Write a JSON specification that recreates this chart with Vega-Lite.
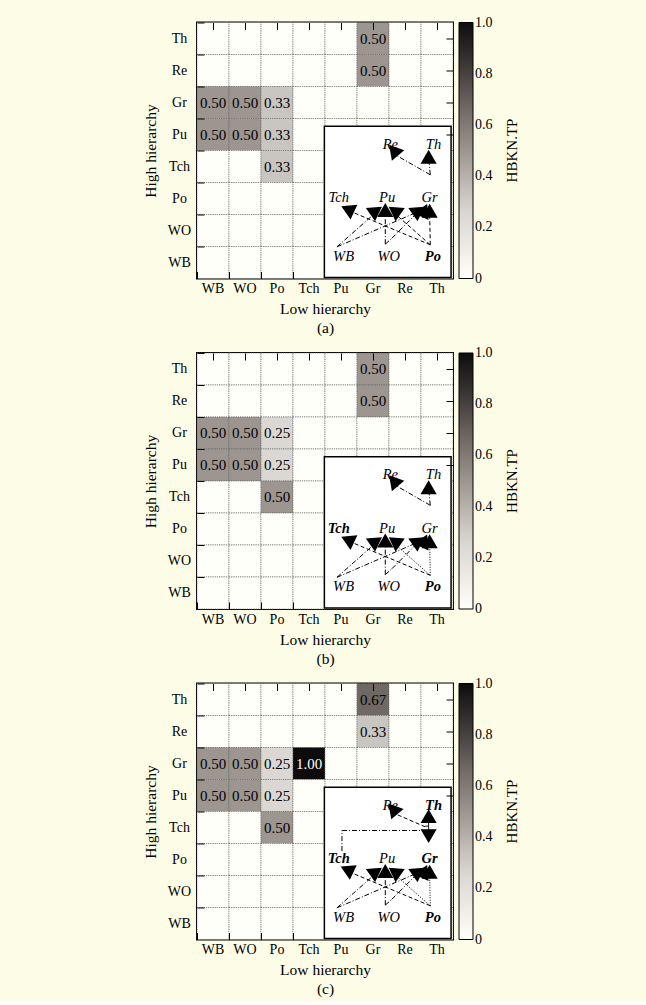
{
"$schema":"https://vega.github.io/schema/vega-lite/v6.json",
"background":"#fdfde7",
"padding":{"left":142,"top":20.5,"right":128,"bottom":3},
"spacing":13.5,
"datasets":{
"cells":[
{"p":"a","h":"Th","l":"WB","v":0},{"p":"a","h":"Th","l":"WO","v":0},{"p":"a","h":"Th","l":"Po","v":0},{"p":"a","h":"Th","l":"Tch","v":0},{"p":"a","h":"Th","l":"Pu","v":0},{"p":"a","h":"Th","l":"Gr","v":0.5},{"p":"a","h":"Th","l":"Re","v":0},{"p":"a","h":"Th","l":"Th","v":0},
{"p":"a","h":"Re","l":"WB","v":0},{"p":"a","h":"Re","l":"WO","v":0},{"p":"a","h":"Re","l":"Po","v":0},{"p":"a","h":"Re","l":"Tch","v":0},{"p":"a","h":"Re","l":"Pu","v":0},{"p":"a","h":"Re","l":"Gr","v":0.5},{"p":"a","h":"Re","l":"Re","v":0},{"p":"a","h":"Re","l":"Th","v":0},
{"p":"a","h":"Gr","l":"WB","v":0.5},{"p":"a","h":"Gr","l":"WO","v":0.5},{"p":"a","h":"Gr","l":"Po","v":0.33},{"p":"a","h":"Gr","l":"Tch","v":0},{"p":"a","h":"Gr","l":"Pu","v":0},{"p":"a","h":"Gr","l":"Gr","v":0},{"p":"a","h":"Gr","l":"Re","v":0},{"p":"a","h":"Gr","l":"Th","v":0},
{"p":"a","h":"Pu","l":"WB","v":0.5},{"p":"a","h":"Pu","l":"WO","v":0.5},{"p":"a","h":"Pu","l":"Po","v":0.33},{"p":"a","h":"Pu","l":"Tch","v":0},{"p":"a","h":"Pu","l":"Pu","v":0},{"p":"a","h":"Pu","l":"Gr","v":0},{"p":"a","h":"Pu","l":"Re","v":0},{"p":"a","h":"Pu","l":"Th","v":0},
{"p":"a","h":"Tch","l":"WB","v":0},{"p":"a","h":"Tch","l":"WO","v":0},{"p":"a","h":"Tch","l":"Po","v":0.33},{"p":"a","h":"Tch","l":"Tch","v":0},{"p":"a","h":"Tch","l":"Pu","v":0},{"p":"a","h":"Tch","l":"Gr","v":0},{"p":"a","h":"Tch","l":"Re","v":0},{"p":"a","h":"Tch","l":"Th","v":0},
{"p":"a","h":"Po","l":"WB","v":0},{"p":"a","h":"Po","l":"WO","v":0},{"p":"a","h":"Po","l":"Po","v":0},{"p":"a","h":"Po","l":"Tch","v":0},{"p":"a","h":"Po","l":"Pu","v":0},{"p":"a","h":"Po","l":"Gr","v":0},{"p":"a","h":"Po","l":"Re","v":0},{"p":"a","h":"Po","l":"Th","v":0},
{"p":"a","h":"WO","l":"WB","v":0},{"p":"a","h":"WO","l":"WO","v":0},{"p":"a","h":"WO","l":"Po","v":0},{"p":"a","h":"WO","l":"Tch","v":0},{"p":"a","h":"WO","l":"Pu","v":0},{"p":"a","h":"WO","l":"Gr","v":0},{"p":"a","h":"WO","l":"Re","v":0},{"p":"a","h":"WO","l":"Th","v":0},
{"p":"a","h":"WB","l":"WB","v":0},{"p":"a","h":"WB","l":"WO","v":0},{"p":"a","h":"WB","l":"Po","v":0},{"p":"a","h":"WB","l":"Tch","v":0},{"p":"a","h":"WB","l":"Pu","v":0},{"p":"a","h":"WB","l":"Gr","v":0},{"p":"a","h":"WB","l":"Re","v":0},{"p":"a","h":"WB","l":"Th","v":0},
{"p":"b","h":"Th","l":"WB","v":0},{"p":"b","h":"Th","l":"WO","v":0},{"p":"b","h":"Th","l":"Po","v":0},{"p":"b","h":"Th","l":"Tch","v":0},{"p":"b","h":"Th","l":"Pu","v":0},{"p":"b","h":"Th","l":"Gr","v":0.5},{"p":"b","h":"Th","l":"Re","v":0},{"p":"b","h":"Th","l":"Th","v":0},
{"p":"b","h":"Re","l":"WB","v":0},{"p":"b","h":"Re","l":"WO","v":0},{"p":"b","h":"Re","l":"Po","v":0},{"p":"b","h":"Re","l":"Tch","v":0},{"p":"b","h":"Re","l":"Pu","v":0},{"p":"b","h":"Re","l":"Gr","v":0.5},{"p":"b","h":"Re","l":"Re","v":0},{"p":"b","h":"Re","l":"Th","v":0},
{"p":"b","h":"Gr","l":"WB","v":0.5},{"p":"b","h":"Gr","l":"WO","v":0.5},{"p":"b","h":"Gr","l":"Po","v":0.25},{"p":"b","h":"Gr","l":"Tch","v":0},{"p":"b","h":"Gr","l":"Pu","v":0},{"p":"b","h":"Gr","l":"Gr","v":0},{"p":"b","h":"Gr","l":"Re","v":0},{"p":"b","h":"Gr","l":"Th","v":0},
{"p":"b","h":"Pu","l":"WB","v":0.5},{"p":"b","h":"Pu","l":"WO","v":0.5},{"p":"b","h":"Pu","l":"Po","v":0.25},{"p":"b","h":"Pu","l":"Tch","v":0},{"p":"b","h":"Pu","l":"Pu","v":0},{"p":"b","h":"Pu","l":"Gr","v":0},{"p":"b","h":"Pu","l":"Re","v":0},{"p":"b","h":"Pu","l":"Th","v":0},
{"p":"b","h":"Tch","l":"WB","v":0},{"p":"b","h":"Tch","l":"WO","v":0},{"p":"b","h":"Tch","l":"Po","v":0.5},{"p":"b","h":"Tch","l":"Tch","v":0},{"p":"b","h":"Tch","l":"Pu","v":0},{"p":"b","h":"Tch","l":"Gr","v":0},{"p":"b","h":"Tch","l":"Re","v":0},{"p":"b","h":"Tch","l":"Th","v":0},
{"p":"b","h":"Po","l":"WB","v":0},{"p":"b","h":"Po","l":"WO","v":0},{"p":"b","h":"Po","l":"Po","v":0},{"p":"b","h":"Po","l":"Tch","v":0},{"p":"b","h":"Po","l":"Pu","v":0},{"p":"b","h":"Po","l":"Gr","v":0},{"p":"b","h":"Po","l":"Re","v":0},{"p":"b","h":"Po","l":"Th","v":0},
{"p":"b","h":"WO","l":"WB","v":0},{"p":"b","h":"WO","l":"WO","v":0},{"p":"b","h":"WO","l":"Po","v":0},{"p":"b","h":"WO","l":"Tch","v":0},{"p":"b","h":"WO","l":"Pu","v":0},{"p":"b","h":"WO","l":"Gr","v":0},{"p":"b","h":"WO","l":"Re","v":0},{"p":"b","h":"WO","l":"Th","v":0},
{"p":"b","h":"WB","l":"WB","v":0},{"p":"b","h":"WB","l":"WO","v":0},{"p":"b","h":"WB","l":"Po","v":0},{"p":"b","h":"WB","l":"Tch","v":0},{"p":"b","h":"WB","l":"Pu","v":0},{"p":"b","h":"WB","l":"Gr","v":0},{"p":"b","h":"WB","l":"Re","v":0},{"p":"b","h":"WB","l":"Th","v":0},
{"p":"c","h":"Th","l":"WB","v":0},{"p":"c","h":"Th","l":"WO","v":0},{"p":"c","h":"Th","l":"Po","v":0},{"p":"c","h":"Th","l":"Tch","v":0},{"p":"c","h":"Th","l":"Pu","v":0},{"p":"c","h":"Th","l":"Gr","v":0.67},{"p":"c","h":"Th","l":"Re","v":0},{"p":"c","h":"Th","l":"Th","v":0},
{"p":"c","h":"Re","l":"WB","v":0},{"p":"c","h":"Re","l":"WO","v":0},{"p":"c","h":"Re","l":"Po","v":0},{"p":"c","h":"Re","l":"Tch","v":0},{"p":"c","h":"Re","l":"Pu","v":0},{"p":"c","h":"Re","l":"Gr","v":0.33},{"p":"c","h":"Re","l":"Re","v":0},{"p":"c","h":"Re","l":"Th","v":0},
{"p":"c","h":"Gr","l":"WB","v":0.5},{"p":"c","h":"Gr","l":"WO","v":0.5},{"p":"c","h":"Gr","l":"Po","v":0.25},{"p":"c","h":"Gr","l":"Tch","v":1.0},{"p":"c","h":"Gr","l":"Pu","v":0},{"p":"c","h":"Gr","l":"Gr","v":0},{"p":"c","h":"Gr","l":"Re","v":0},{"p":"c","h":"Gr","l":"Th","v":0},
{"p":"c","h":"Pu","l":"WB","v":0.5},{"p":"c","h":"Pu","l":"WO","v":0.5},{"p":"c","h":"Pu","l":"Po","v":0.25},{"p":"c","h":"Pu","l":"Tch","v":0},{"p":"c","h":"Pu","l":"Pu","v":0},{"p":"c","h":"Pu","l":"Gr","v":0},{"p":"c","h":"Pu","l":"Re","v":0},{"p":"c","h":"Pu","l":"Th","v":0},
{"p":"c","h":"Tch","l":"WB","v":0},{"p":"c","h":"Tch","l":"WO","v":0},{"p":"c","h":"Tch","l":"Po","v":0.5},{"p":"c","h":"Tch","l":"Tch","v":0},{"p":"c","h":"Tch","l":"Pu","v":0},{"p":"c","h":"Tch","l":"Gr","v":0},{"p":"c","h":"Tch","l":"Re","v":0},{"p":"c","h":"Tch","l":"Th","v":0},
{"p":"c","h":"Po","l":"WB","v":0},{"p":"c","h":"Po","l":"WO","v":0},{"p":"c","h":"Po","l":"Po","v":0},{"p":"c","h":"Po","l":"Tch","v":0},{"p":"c","h":"Po","l":"Pu","v":0},{"p":"c","h":"Po","l":"Gr","v":0},{"p":"c","h":"Po","l":"Re","v":0},{"p":"c","h":"Po","l":"Th","v":0},
{"p":"c","h":"WO","l":"WB","v":0},{"p":"c","h":"WO","l":"WO","v":0},{"p":"c","h":"WO","l":"Po","v":0},{"p":"c","h":"WO","l":"Tch","v":0},{"p":"c","h":"WO","l":"Pu","v":0},{"p":"c","h":"WO","l":"Gr","v":0},{"p":"c","h":"WO","l":"Re","v":0},{"p":"c","h":"WO","l":"Th","v":0},
{"p":"c","h":"WB","l":"WB","v":0},{"p":"c","h":"WB","l":"WO","v":0},{"p":"c","h":"WB","l":"Po","v":0},{"p":"c","h":"WB","l":"Tch","v":0},{"p":"c","h":"WB","l":"Pu","v":0},{"p":"c","h":"WB","l":"Gr","v":0},{"p":"c","h":"WB","l":"Re","v":0},{"p":"c","h":"WB","l":"Th","v":0}
],
"insets":[{"x0":3.98,"x1":7.94,"y0":0.03,"y1":4.76}],
"nodes":[
{"p":"a","n":"Re","x":6.04,"y":4.18,"b":false},{"p":"a","n":"Th","x":7.39,"y":4.18,"b":false},{"p":"a","n":"Tch","x":4.43,"y":2.51,"b":false},{"p":"a","n":"Pu","x":5.94,"y":2.51,"b":false},{"p":"a","n":"Gr","x":7.27,"y":2.51,"b":false},{"p":"a","n":"WB","x":4.58,"y":0.68,"b":false},{"p":"a","n":"WO","x":5.99,"y":0.68,"b":false},{"p":"a","n":"Po","x":7.37,"y":0.68,"b":true},
{"p":"b","n":"Re","x":6.04,"y":4.18,"b":false},{"p":"b","n":"Th","x":7.39,"y":4.18,"b":false},{"p":"b","n":"Tch","x":4.43,"y":2.51,"b":true},{"p":"b","n":"Pu","x":5.94,"y":2.51,"b":false},{"p":"b","n":"Gr","x":7.27,"y":2.51,"b":false},{"p":"b","n":"WB","x":4.58,"y":0.68,"b":false},{"p":"b","n":"WO","x":5.99,"y":0.68,"b":false},{"p":"b","n":"Po","x":7.37,"y":0.68,"b":true},
{"p":"c","n":"Re","x":6.04,"y":4.18,"b":false},{"p":"c","n":"Th","x":7.39,"y":4.18,"b":true},{"p":"c","n":"Tch","x":4.43,"y":2.51,"b":true},{"p":"c","n":"Pu","x":5.94,"y":2.51,"b":false},{"p":"c","n":"Gr","x":7.27,"y":2.51,"b":true},{"p":"c","n":"WB","x":4.58,"y":0.68,"b":false},{"p":"c","n":"WO","x":5.99,"y":0.68,"b":false},{"p":"c","n":"Po","x":7.37,"y":0.68,"b":true}
],
"edges":[
{"p":"a","x":7.29,"y":3.24,"x2":6.165,"y2":3.886,"s":"dd"},{"p":"a","x":7.29,"y":3.24,"x2":7.238,"y2":3.803,"s":"dd"},
{"p":"a","x":4.374,"y":0.99,"x2":5.624,"y2":2.095,"s":"dd"},{"p":"a","x":4.374,"y":0.99,"x2":6.926,"y2":2.095,"s":"dd"},
{"p":"a","x":5.884,"y":1.074,"x2":5.884,"y2":2.115,"s":"dd"},{"p":"a","x":5.884,"y":1.074,"x2":6.093,"y2":1.261,"s":"dd"},{"p":"a","x":6.093,"y":1.261,"x2":6.926,"y2":2.095,"s":"dd"},
{"p":"a","x":7.29,"y":1.053,"x2":4.707,"y2":2.136,"s":"da"},{"p":"a","x":7.29,"y":1.053,"x2":6.145,"y2":2.063,"s":"da"},{"p":"a","x":7.29,"y":1.053,"x2":7.27,"y2":2.063,"s":"da"},
{"p":"b","x":7.29,"y":3.24,"x2":6.165,"y2":3.886,"s":"dd"},{"p":"b","x":7.29,"y":3.24,"x2":7.238,"y2":3.803,"s":"dd"},
{"p":"b","x":4.374,"y":0.99,"x2":5.624,"y2":2.095,"s":"dd"},{"p":"b","x":4.374,"y":0.99,"x2":6.926,"y2":2.095,"s":"dd"},
{"p":"b","x":5.884,"y":1.074,"x2":5.884,"y2":2.115,"s":"dd"},{"p":"b","x":5.884,"y":1.074,"x2":6.093,"y2":1.261,"s":"dd"},{"p":"b","x":6.093,"y":1.261,"x2":6.926,"y2":2.095,"s":"dd"},
{"p":"b","x":7.29,"y":1.053,"x2":4.707,"y2":2.136,"s":"da"},{"p":"b","x":7.29,"y":1.053,"x2":6.145,"y2":2.063,"s":"do"},{"p":"b","x":7.29,"y":1.053,"x2":7.27,"y2":2.063,"s":"do"},
{"p":"c","x":7.134,"y":3.52,"x2":6.19,"y2":3.93,"s":"da"},{"p":"c","x":7.238,"y":3.3,"x2":7.238,"y2":3.8,"s":"so"},{"p":"c","x":7.134,"y":3.543,"x2":7.238,"y2":3.543,"s":"so"},
{"p":"c","x":4.53,"y":2.761,"x2":4.53,"y2":3.407,"s":"dd"},{"p":"c","x":4.53,"y":3.407,"x2":7.238,"y2":3.407,"s":"dd"},
{"p":"c","x":4.374,"y":0.99,"x2":5.624,"y2":2.095,"s":"dd"},{"p":"c","x":4.374,"y":0.99,"x2":6.926,"y2":2.095,"s":"dd"},
{"p":"c","x":5.884,"y":1.074,"x2":5.884,"y2":2.115,"s":"dd"},{"p":"c","x":5.884,"y":1.074,"x2":6.093,"y2":1.261,"s":"dd"},{"p":"c","x":6.093,"y":1.261,"x2":6.926,"y2":2.095,"s":"dd"},
{"p":"c","x":7.29,"y":1.053,"x2":4.707,"y2":2.136,"s":"da"},{"p":"c","x":7.29,"y":1.053,"x2":6.145,"y2":2.063,"s":"do"},{"p":"c","x":7.29,"y":1.053,"x2":7.27,"y2":2.063,"s":"do"}
],
"heads":[
{"p":"a","x":6.165,"y":3.886,"a":200},{"p":"a","x":7.238,"y":3.803,"a":0},{"p":"a","x":4.707,"y":2.167,"a":295},
{"p":"a","x":5.6,"y":2.12,"a":55},{"p":"a","x":5.884,"y":2.14,"a":0},{"p":"a","x":6.17,"y":2.12,"a":305},
{"p":"a","x":6.926,"y":2.12,"a":55},{"p":"a","x":7.1,"y":2.13,"a":25},{"p":"a","x":7.27,"y":2.12,"a":0},
{"p":"b","x":6.165,"y":3.886,"a":200},{"p":"b","x":7.238,"y":3.803,"a":0},{"p":"b","x":4.707,"y":2.167,"a":295},
{"p":"b","x":5.6,"y":2.12,"a":55},{"p":"b","x":5.884,"y":2.14,"a":0},{"p":"b","x":6.17,"y":2.12,"a":305},
{"p":"b","x":6.926,"y":2.12,"a":55},{"p":"b","x":7.1,"y":2.13,"a":25},{"p":"b","x":7.27,"y":2.12,"a":0},
{"p":"c","x":6.145,"y":3.96,"a":200},{"p":"c","x":7.238,"y":3.855,"a":0},{"p":"c","x":7.238,"y":3.23,"a":180},{"p":"c","x":4.686,"y":2.188,"a":295},
{"p":"c","x":5.6,"y":2.12,"a":55},{"p":"c","x":5.884,"y":2.14,"a":0},{"p":"c","x":6.17,"y":2.12,"a":305},
{"p":"c","x":6.926,"y":2.12,"a":55},{"p":"c","x":7.1,"y":2.13,"a":25},{"p":"c","x":7.27,"y":2.12,"a":0}
]
},
"vconcat":[
{"width":256,"height":256,
 "layer":[
  {"data":{"name":"cells"},"transform":[{"filter":"datum.p=='a'"}],
   "mark":{"type":"rect","stroke":"#666666","strokeWidth":0.8,"strokeDash":[1,1.2]},
   "encoding":{
    "x":{"field":"l","type":"nominal","scale":{"domain":["WB","WO","Po","Tch","Pu","Gr","Re","Th"],"paddingInner":0,"paddingOuter":0},"axis":{"labelAngle":0,"labelPadding":3,"offset":-7,"bandPosition":0,"ticks":true,"tickSize":7,"tickColor":"black","tickOpacity":{"condition":{"test":"indexof(['Pu','Gr','Re','Th'],datum.value)>=0","value":0},"value":1},"zindex":1,"title":["Low hierarchy","(a)"],"titlePadding":6,"titleLineHeight":19}},
    "y":{"field":"h","type":"nominal","scale":{"domain":["Th","Re","Gr","Pu","Tch","Po","WO","WB"],"paddingInner":0,"paddingOuter":0},"axis":{"labelAlign":"center","labelPadding":18,"offset":-7,"bandPosition":0,"ticks":true,"tickSize":7,"tickColor":"black","zindex":1,"title":"High hierarchy","titlePadding":9}},
    "color":{"field":"v","type":"quantitative","scale":{"domain":[0,0.25,0.33,0.5,0.67,1],"range":["#ffffff","#dbd8d4","#c9c5c1","#9d958f","#6f6864","#0d0b0b"]},
     "legend":{"title":"HBKN.TP","values":[0,0.2,0.4,0.6,0.8,1],"labelExpr":"datum.value==0?'0':format(datum.value,'.1f')","encode":{"title":{"update":{"angle":{"value":-90},"baseline":{"value":"top"}}},"labels":{"update":{"baseline":{"value":"middle"}}}}}}
   }},
  {"data":{"name":"cells"},"transform":[{"filter":"datum.p=='a' && datum.v>0"}],
   "mark":{"type":"text","fontSize":15},
   "encoding":{
    "x":{"field":"l","type":"nominal","scale":{"domain":["WB","WO","Po","Tch","Pu","Gr","Re","Th"],"paddingInner":0,"paddingOuter":0},"axis":{"orient":"top","labels":false,"title":null,"offset":-7,"bandPosition":0,"ticks":true,"tickSize":7,"tickColor":"black","zindex":1}},
    "y":{"field":"h","type":"nominal","scale":{"domain":["Th","Re","Gr","Pu","Tch","Po","WO","WB"],"paddingInner":0,"paddingOuter":0},"axis":{"orient":"right","labels":false,"title":null,"values":["Th","Re","Gr","Pu"],"offset":-7,"bandPosition":0,"ticks":true,"tickSize":7,"tickColor":"black","zindex":1}},
    "text":{"field":"v","type":"quantitative","format":".2f"},
    "color":{"condition":{"test":"datum.v>0.8","value":"white"},"value":"black"}
   }},
  {"data":{"name":"insets"},
   "mark":{"type":"rect","fill":"white","stroke":"black","strokeWidth":1.5},
   "encoding":{"x":{"field":"x0","type":"quantitative","scale":{"domain":[0,8],"nice":false},"axis":null},"x2":{"field":"x1"},"y":{"field":"y0","type":"quantitative","scale":{"domain":[0,8],"nice":false},"axis":null},"y2":{"field":"y1"}}},
  {"data":{"name":"edges"},"transform":[{"filter":"datum.p=='a'"}],
   "mark":{"type":"rule","color":"black","strokeWidth":1},
   "encoding":{"x":{"field":"x","type":"quantitative","scale":{"domain":[0,8],"nice":false},"axis":null},"x2":{"field":"x2"},"y":{"field":"y","type":"quantitative","scale":{"domain":[0,8],"nice":false},"axis":null},"y2":{"field":"y2"},
    "strokeDash":{"field":"s","type":"nominal","scale":{"domain":["dd","da","do","so"],"range":[[5,2,1,2],[4,2.5],[1,1.5],[1,0]]},"legend":null}}},
  {"data":{"name":"heads"},"transform":[{"filter":"datum.p=='a'"}],
   "mark":{"type":"point","shape":"triangle-up","filled":true,"color":"black","opacity":1,"size":260},
   "encoding":{"x":{"field":"x","type":"quantitative","scale":{"domain":[0,8],"nice":false},"axis":null},"y":{"field":"y","type":"quantitative","scale":{"domain":[0,8],"nice":false},"axis":null},"angle":{"field":"a","type":"quantitative","scale":null}}},
  {"data":{"name":"nodes"},"transform":[{"filter":"datum.p=='a' && !datum.b"}],
   "mark":{"type":"text","fontSize":14.5,"fontStyle":"italic","align":"center","baseline":"middle"},
   "encoding":{"x":{"field":"x","type":"quantitative","scale":{"domain":[0,8],"nice":false},"axis":null},"y":{"field":"y","type":"quantitative","scale":{"domain":[0,8],"nice":false},"axis":null},"text":{"field":"n"}}},
  {"data":{"name":"nodes"},"transform":[{"filter":"datum.p=='a' && datum.b"}],
   "mark":{"type":"text","fontSize":14.5,"fontStyle":"italic","fontWeight":"bold","align":"center","baseline":"middle"},
   "encoding":{"x":{"field":"x","type":"quantitative","scale":{"domain":[0,8],"nice":false},"axis":null},"y":{"field":"y","type":"quantitative","scale":{"domain":[0,8],"nice":false},"axis":null},"text":{"field":"n"}}}
 ],
 "resolve":{"scale":{"x":"independent","y":"independent"}}
},
{"width":256,"height":256,
 "layer":[
  {"data":{"name":"cells"},"transform":[{"filter":"datum.p=='b'"}],
   "mark":{"type":"rect","stroke":"#666666","strokeWidth":0.8,"strokeDash":[1,1.2]},
   "encoding":{
    "x":{"field":"l","type":"nominal","scale":{"domain":["WB","WO","Po","Tch","Pu","Gr","Re","Th"],"paddingInner":0,"paddingOuter":0},"axis":{"labelAngle":0,"labelPadding":3,"offset":-7,"bandPosition":0,"ticks":true,"tickSize":7,"tickColor":"black","tickOpacity":{"condition":{"test":"indexof(['Pu','Gr','Re','Th'],datum.value)>=0","value":0},"value":1},"zindex":1,"title":["Low hierarchy","(b)"],"titlePadding":6,"titleLineHeight":19}},
    "y":{"field":"h","type":"nominal","scale":{"domain":["Th","Re","Gr","Pu","Tch","Po","WO","WB"],"paddingInner":0,"paddingOuter":0},"axis":{"labelAlign":"center","labelPadding":18,"offset":-7,"bandPosition":0,"ticks":true,"tickSize":7,"tickColor":"black","zindex":1,"title":"High hierarchy","titlePadding":9}},
    "color":{"field":"v","type":"quantitative","scale":{"domain":[0,0.25,0.33,0.5,0.67,1],"range":["#ffffff","#dbd8d4","#c9c5c1","#9d958f","#6f6864","#0d0b0b"]},
     "legend":{"title":"HBKN.TP","values":[0,0.2,0.4,0.6,0.8,1],"labelExpr":"datum.value==0?'0':format(datum.value,'.1f')","encode":{"title":{"update":{"angle":{"value":-90},"baseline":{"value":"top"}}},"labels":{"update":{"baseline":{"value":"middle"}}}}}}
   }},
  {"data":{"name":"cells"},"transform":[{"filter":"datum.p=='b' && datum.v>0"}],
   "mark":{"type":"text","fontSize":15},
   "encoding":{
    "x":{"field":"l","type":"nominal","scale":{"domain":["WB","WO","Po","Tch","Pu","Gr","Re","Th"],"paddingInner":0,"paddingOuter":0},"axis":{"orient":"top","labels":false,"title":null,"offset":-7,"bandPosition":0,"ticks":true,"tickSize":7,"tickColor":"black","zindex":1}},
    "y":{"field":"h","type":"nominal","scale":{"domain":["Th","Re","Gr","Pu","Tch","Po","WO","WB"],"paddingInner":0,"paddingOuter":0},"axis":{"orient":"right","labels":false,"title":null,"values":["Th","Re","Gr","Pu"],"offset":-7,"bandPosition":0,"ticks":true,"tickSize":7,"tickColor":"black","zindex":1}},
    "text":{"field":"v","type":"quantitative","format":".2f"},
    "color":{"condition":{"test":"datum.v>0.8","value":"white"},"value":"black"}
   }},
  {"data":{"name":"insets"},
   "mark":{"type":"rect","fill":"white","stroke":"black","strokeWidth":1.5},
   "encoding":{"x":{"field":"x0","type":"quantitative","scale":{"domain":[0,8],"nice":false},"axis":null},"x2":{"field":"x1"},"y":{"field":"y0","type":"quantitative","scale":{"domain":[0,8],"nice":false},"axis":null},"y2":{"field":"y1"}}},
  {"data":{"name":"edges"},"transform":[{"filter":"datum.p=='b'"}],
   "mark":{"type":"rule","color":"black","strokeWidth":1},
   "encoding":{"x":{"field":"x","type":"quantitative","scale":{"domain":[0,8],"nice":false},"axis":null},"x2":{"field":"x2"},"y":{"field":"y","type":"quantitative","scale":{"domain":[0,8],"nice":false},"axis":null},"y2":{"field":"y2"},
    "strokeDash":{"field":"s","type":"nominal","scale":{"domain":["dd","da","do","so"],"range":[[5,2,1,2],[4,2.5],[1,1.5],[1,0]]},"legend":null}}},
  {"data":{"name":"heads"},"transform":[{"filter":"datum.p=='b'"}],
   "mark":{"type":"point","shape":"triangle-up","filled":true,"color":"black","opacity":1,"size":260},
   "encoding":{"x":{"field":"x","type":"quantitative","scale":{"domain":[0,8],"nice":false},"axis":null},"y":{"field":"y","type":"quantitative","scale":{"domain":[0,8],"nice":false},"axis":null},"angle":{"field":"a","type":"quantitative","scale":null}}},
  {"data":{"name":"nodes"},"transform":[{"filter":"datum.p=='b' && !datum.b"}],
   "mark":{"type":"text","fontSize":14.5,"fontStyle":"italic","align":"center","baseline":"middle"},
   "encoding":{"x":{"field":"x","type":"quantitative","scale":{"domain":[0,8],"nice":false},"axis":null},"y":{"field":"y","type":"quantitative","scale":{"domain":[0,8],"nice":false},"axis":null},"text":{"field":"n"}}},
  {"data":{"name":"nodes"},"transform":[{"filter":"datum.p=='b' && datum.b"}],
   "mark":{"type":"text","fontSize":14.5,"fontStyle":"italic","fontWeight":"bold","align":"center","baseline":"middle"},
   "encoding":{"x":{"field":"x","type":"quantitative","scale":{"domain":[0,8],"nice":false},"axis":null},"y":{"field":"y","type":"quantitative","scale":{"domain":[0,8],"nice":false},"axis":null},"text":{"field":"n"}}}
 ],
 "resolve":{"scale":{"x":"independent","y":"independent"}}
},
{"width":256,"height":256,
 "layer":[
  {"data":{"name":"cells"},"transform":[{"filter":"datum.p=='c'"}],
   "mark":{"type":"rect","stroke":"#666666","strokeWidth":0.8,"strokeDash":[1,1.2]},
   "encoding":{
    "x":{"field":"l","type":"nominal","scale":{"domain":["WB","WO","Po","Tch","Pu","Gr","Re","Th"],"paddingInner":0,"paddingOuter":0},"axis":{"labelAngle":0,"labelPadding":3,"offset":-7,"bandPosition":0,"ticks":true,"tickSize":7,"tickColor":"black","tickOpacity":{"condition":{"test":"indexof(['Pu','Gr','Re','Th'],datum.value)>=0","value":0},"value":1},"zindex":1,"title":["Low hierarchy","(c)"],"titlePadding":6,"titleLineHeight":19}},
    "y":{"field":"h","type":"nominal","scale":{"domain":["Th","Re","Gr","Pu","Tch","Po","WO","WB"],"paddingInner":0,"paddingOuter":0},"axis":{"labelAlign":"center","labelPadding":18,"offset":-7,"bandPosition":0,"ticks":true,"tickSize":7,"tickColor":"black","zindex":1,"title":"High hierarchy","titlePadding":9}},
    "color":{"field":"v","type":"quantitative","scale":{"domain":[0,0.25,0.33,0.5,0.67,1],"range":["#ffffff","#dbd8d4","#c9c5c1","#9d958f","#6f6864","#0d0b0b"]},
     "legend":{"title":"HBKN.TP","values":[0,0.2,0.4,0.6,0.8,1],"labelExpr":"datum.value==0?'0':format(datum.value,'.1f')","encode":{"title":{"update":{"angle":{"value":-90},"baseline":{"value":"top"}}},"labels":{"update":{"baseline":{"value":"middle"}}}}}}
   }},
  {"data":{"name":"cells"},"transform":[{"filter":"datum.p=='c' && datum.v>0"}],
   "mark":{"type":"text","fontSize":15},
   "encoding":{
    "x":{"field":"l","type":"nominal","scale":{"domain":["WB","WO","Po","Tch","Pu","Gr","Re","Th"],"paddingInner":0,"paddingOuter":0},"axis":{"orient":"top","labels":false,"title":null,"offset":-7,"bandPosition":0,"ticks":true,"tickSize":7,"tickColor":"black","zindex":1}},
    "y":{"field":"h","type":"nominal","scale":{"domain":["Th","Re","Gr","Pu","Tch","Po","WO","WB"],"paddingInner":0,"paddingOuter":0},"axis":{"orient":"right","labels":false,"title":null,"values":["Th","Re","Gr","Pu"],"offset":-7,"bandPosition":0,"ticks":true,"tickSize":7,"tickColor":"black","zindex":1}},
    "text":{"field":"v","type":"quantitative","format":".2f"},
    "color":{"condition":{"test":"datum.v>0.8","value":"white"},"value":"black"}
   }},
  {"data":{"name":"insets"},
   "mark":{"type":"rect","fill":"white","stroke":"black","strokeWidth":1.5},
   "encoding":{"x":{"field":"x0","type":"quantitative","scale":{"domain":[0,8],"nice":false},"axis":null},"x2":{"field":"x1"},"y":{"field":"y0","type":"quantitative","scale":{"domain":[0,8],"nice":false},"axis":null},"y2":{"field":"y1"}}},
  {"data":{"name":"edges"},"transform":[{"filter":"datum.p=='c'"}],
   "mark":{"type":"rule","color":"black","strokeWidth":1},
   "encoding":{"x":{"field":"x","type":"quantitative","scale":{"domain":[0,8],"nice":false},"axis":null},"x2":{"field":"x2"},"y":{"field":"y","type":"quantitative","scale":{"domain":[0,8],"nice":false},"axis":null},"y2":{"field":"y2"},
    "strokeDash":{"field":"s","type":"nominal","scale":{"domain":["dd","da","do","so"],"range":[[5,2,1,2],[4,2.5],[1,1.5],[1,0]]},"legend":null}}},
  {"data":{"name":"heads"},"transform":[{"filter":"datum.p=='c'"}],
   "mark":{"type":"point","shape":"triangle-up","filled":true,"color":"black","opacity":1,"size":260},
   "encoding":{"x":{"field":"x","type":"quantitative","scale":{"domain":[0,8],"nice":false},"axis":null},"y":{"field":"y","type":"quantitative","scale":{"domain":[0,8],"nice":false},"axis":null},"angle":{"field":"a","type":"quantitative","scale":null}}},
  {"data":{"name":"nodes"},"transform":[{"filter":"datum.p=='c' && !datum.b"}],
   "mark":{"type":"text","fontSize":14.5,"fontStyle":"italic","align":"center","baseline":"middle"},
   "encoding":{"x":{"field":"x","type":"quantitative","scale":{"domain":[0,8],"nice":false},"axis":null},"y":{"field":"y","type":"quantitative","scale":{"domain":[0,8],"nice":false},"axis":null},"text":{"field":"n"}}},
  {"data":{"name":"nodes"},"transform":[{"filter":"datum.p=='c' && datum.b"}],
   "mark":{"type":"text","fontSize":14.5,"fontStyle":"italic","fontWeight":"bold","align":"center","baseline":"middle"},
   "encoding":{"x":{"field":"x","type":"quantitative","scale":{"domain":[0,8],"nice":false},"axis":null},"y":{"field":"y","type":"quantitative","scale":{"domain":[0,8],"nice":false},"axis":null},"text":{"field":"n"}}}
 ],
 "resolve":{"scale":{"x":"independent","y":"independent"}}
}
],
"resolve":{"scale":{"color":"independent"},"legend":{"color":"independent"}},
"config":{
 "font":"Liberation Serif",
 "view":{"stroke":"black","strokeWidth":2},
 "text":{"font":"Liberation Serif"},
 "axis":{"labelFont":"Liberation Serif","labelFontSize":14,"labelColor":"black","titleFont":"Liberation Serif","titleFontSize":15.5,"titleFontWeight":"normal","titleColor":"black","domain":false,"ticks":false,"tickSize":0,"grid":false},
 "legend":{"gradientLength":256,"gradientThickness":14,"gradientStrokeColor":"black","gradientStrokeWidth":1,"offset":5,"padding":0,"labelOffset":2,"labelFont":"Liberation Serif","labelFontSize":14,"labelColor":"black","titleFont":"Liberation Serif","titleFontSize":15,"titleFontWeight":"normal","titleColor":"black","titleOrient":"right","titleAnchor":"middle","titlePadding":12}
}
}
